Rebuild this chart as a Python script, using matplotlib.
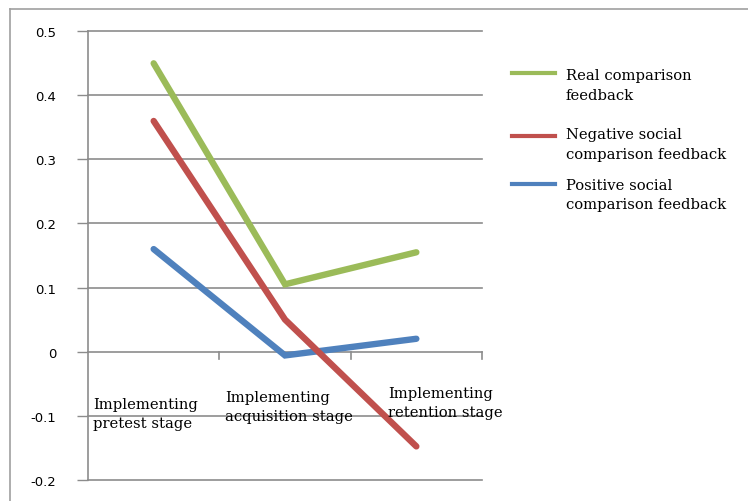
import matplotlib
matplotlib.use("Agg")
import matplotlib.pyplot as plt
from matplotlib.lines import Line2D

categories = ["Implementing\npretest stage",
              "Implementing\nacquisition stage",
              "Implementing\nretention stage"]
series_names = ["Real comparison\nfeedback",
                "Negative social\ncomparison feedback",
                "Positive social\ncomparison feedback"]
real_vals = [0.45, 0.105, 0.155]
negative_vals = [0.36, 0.05, -0.148]
positive_vals = [0.16, -0.006, 0.02]
yticks = [-0.2, -0.1, 0, 0.1, 0.2, 0.3, 0.4, 0.5]
ytick_labels = ["-0.2", "-0.1", "0", "0.1", "0.2", "0.3", "0.4", "0.5"]

colors = ["#9BBB59", "#C0504D", "#4F81BD"]
grid_c = "#8C8C8C"

W, H = 748, 502
fig = plt.figure(figsize=(W / 100, H / 100), dpi=100)
ax = fig.add_axes([88 / W, 1 - 480.7 / H, 394 / W, 448.4 / H])

x = list(range(len(categories)))
series = [real_vals, negative_vals, positive_vals]
zorders = [3, 4, 2]
for vals, c, name, z in zip(series, colors, series_names, zorders):
    ax.plot(x, vals, color=c, lw=4.6, solid_capstyle="round",
            solid_joinstyle="miter", label=name, zorder=z)

ax.set_xlim(-0.5, len(categories) - 0.5)
ax.set_ylim(-0.2, 0.5)
ax.set_yticks(yticks)
ax.set_yticklabels(ytick_labels, family="DejaVu Sans", fontsize=9.5)
ax.tick_params(axis="y", length=8, width=1, color=grid_c, pad=15)
ax.set_xticks([])
for s in ["top", "right", "bottom"]:
    ax.spines[s].set_visible(False)
ax.spines["left"].set_color(grid_c)
ax.spines["left"].set_linewidth(1.2)
for yv in yticks:
    ax.axhline(yv, color=grid_c, lw=1.2, zorder=1, clip_on=False)

# category boundary ticks on the zero line
for b in [0.5, 1.5, 2.5]:
    ax.plot([b, b], [0, -0.011], color=grid_c, lw=1.2, zorder=1, clip_on=False)

# category labels
tops = [398, 391, 387]
lefts = [93, 225, 388]
for lab, t, l in zip(categories, tops, lefts):
    fig.text(l / W, 1 - t / H, lab, family="DejaVu Serif", fontsize=10.6,
             ha="left", va="top", linespacing=1.5)

# legend (drawn manually: handle aligned with first text line)
handle_y = [74, 137, 185]
text_top = [69, 128, 179]
for name, c, hy, ty in zip(series_names, colors, handle_y, text_top):
    fig.add_artist(Line2D([512 / W, 555 / W], [1 - hy / H, 1 - hy / H],
                          transform=fig.transFigure, color=c, lw=3.0))
    fig.text(566 / W, 1 - ty / H, name, family="DejaVu Serif", fontsize=10.6,
             ha="left", va="top", linespacing=1.5)

# outer chart border
fig.add_artist(Line2D([10 / W, 1], [1 - 9.5 / H, 1 - 9.5 / H],
                      transform=fig.transFigure, color="#A0A0A0", lw=1.2))
fig.add_artist(Line2D([10 / W, 10 / W], [0, 1 - 9.5 / H],
                      transform=fig.transFigure, color="#A0A0A0", lw=1.2))

fig.savefig("out.png", dpi=100)
